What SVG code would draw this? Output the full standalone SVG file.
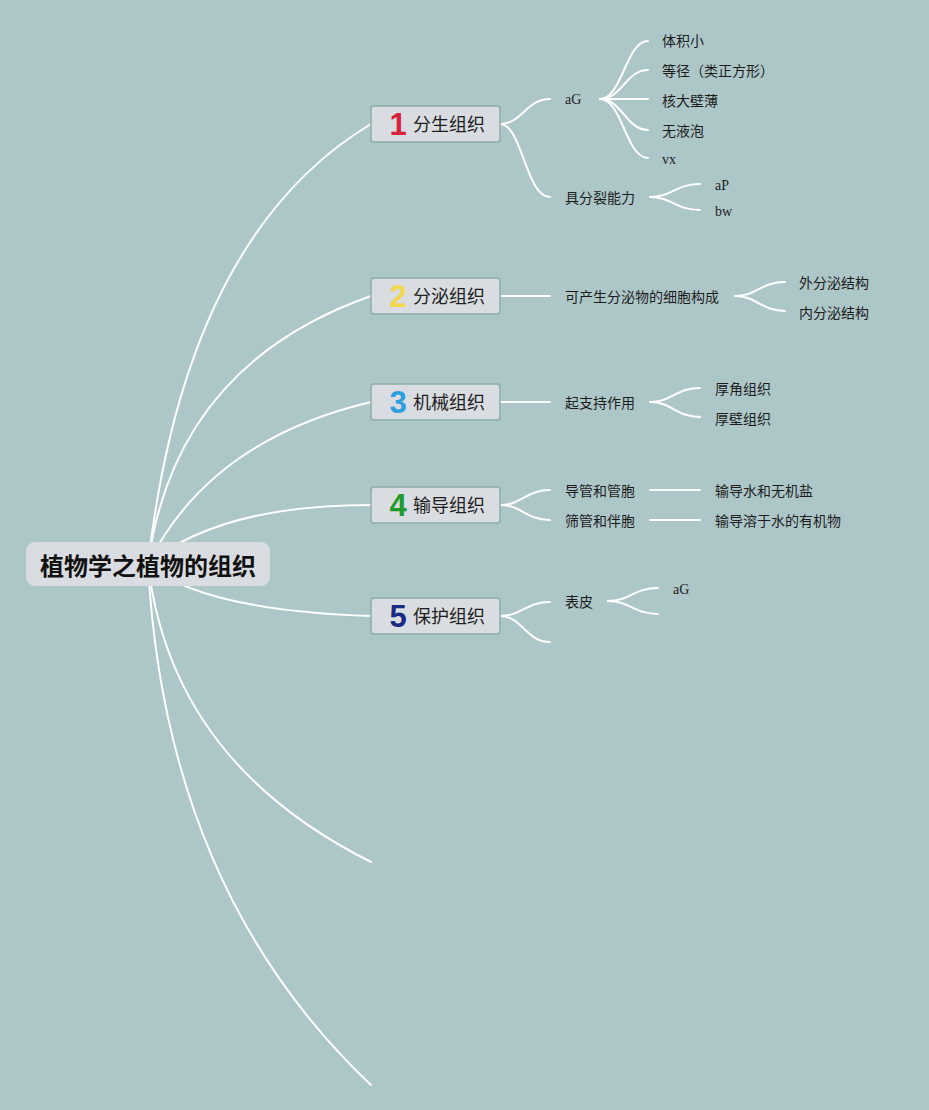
<svg xmlns="http://www.w3.org/2000/svg" width="929" height="1110" viewBox="0 0 929 1110">
<style>
.bg{fill:#adc7c9}
.ln{fill:none;stroke:#ffffff;stroke-width:2;stroke-linecap:round}
.sl{fill:none;stroke:#ffffff;stroke-width:2;stroke-linecap:round}
.box{fill:#d9dce1;stroke:#8aaeaa;stroke-width:1.5}
.root{fill:#d9dce1}
.rt{font-family:"Noto Sans CJK SC","Noto Sans",sans-serif;font-size:24px;font-weight:bold;fill:#111111}
.nt{font-family:"Noto Sans CJK SC","Noto Sans",sans-serif;font-size:18px;fill:#1e1e1e}
.num{font-family:"Liberation Sans","Noto Sans",sans-serif;font-size:31px;font-weight:bold}
.st{font-family:"Noto Sans CJK SC","Noto Sans",sans-serif;font-size:14px;fill:#1c1c1c}
.lt{font-family:"Liberation Serif",serif;font-size:14px;fill:#1c1c1c}
</style>
<rect class="bg" x="0" y="0" width="929" height="1110"/>
<g id="connectors">
<path class="ln" d="M148,564 Q186,235 371,124"/>
<path class="ln" d="M148,564 Q175,365 371,296"/>
<path class="ln" d="M148,564 Q210,440 371,402"/>
<path class="ln" d="M148,564 Q220,505 371,505"/>
<path class="ln" d="M148,564 Q200,610 371,616"/>
<path class="ln" d="M148,564 Q171,762 371,862"/>
<path class="ln" d="M148,564 Q165,890 371,1085"/>
<path class="sl" d="M500,124 C522,124 526,99 550,99"/>
<path class="sl" d="M500,124 C522,124 526,197 550,197"/>
<path class="sl" d="M600,99 C622,99 626,41 648,41"/>
<path class="sl" d="M600,99 C622,99 626,70 648,70"/>
<path class="sl" d="M600,99 L648,99"/>
<path class="sl" d="M600,99 C622,99 626,130 648,130"/>
<path class="sl" d="M600,99 C622,99 626,158 648,158"/>
<path class="sl" d="M650,197 C672,197 676,184 700,184"/>
<path class="sl" d="M650,197 C672,197 676,210 700,210"/>
<path class="sl" d="M500,296 L550,296"/>
<path class="sl" d="M735,296 C757,296 761,282 785,282"/>
<path class="sl" d="M735,296 C757,296 761,311 785,311"/>
<path class="sl" d="M500,402 L550,402"/>
<path class="sl" d="M650,402 C672,402 676,388 700,388"/>
<path class="sl" d="M650,402 C672,402 676,417 700,417"/>
<path class="sl" d="M500,505 C522,505 526,490 550,490"/>
<path class="sl" d="M500,505 C522,505 526,520 550,520"/>
<path class="sl" d="M650,490 L700,490"/>
<path class="sl" d="M650,520 L700,520"/>
<path class="sl" d="M500,616 C522,616 526,602 550,602"/>
<path class="sl" d="M500,616 C522,616 526,642 550,642"/>
<path class="sl" d="M608,601 C630,601 634,588 658,588"/>
<path class="sl" d="M608,601 C630,601 634,614 658,614"/>
</g>
<g id="root">
<rect class="root" x="26" y="542" width="244" height="44" rx="9"/>
<text class="rt" x="148" y="564" text-anchor="middle" dominant-baseline="central">植物学之植物的组织</text>
</g>
<g id="node1">
<rect class="box" x="371" y="106" width="129" height="36" rx="3"/>
<text class="num" x="398" y="135" text-anchor="middle" fill="#d8213b">1</text>
<text class="nt" x="413" y="123" dominant-baseline="central">分生组织</text>
</g>
<g id="node2">
<rect class="box" x="371" y="278" width="129" height="36" rx="3"/>
<text class="num" x="398" y="307" text-anchor="middle" fill="#f4d64a">2</text>
<text class="nt" x="413" y="295" dominant-baseline="central">分泌组织</text>
</g>
<g id="node3">
<rect class="box" x="371" y="384" width="129" height="36" rx="3"/>
<text class="num" x="398" y="413" text-anchor="middle" fill="#2b9fe0">3</text>
<text class="nt" x="413" y="401" dominant-baseline="central">机械组织</text>
</g>
<g id="node4">
<rect class="box" x="371" y="487" width="129" height="36" rx="3"/>
<text class="num" x="398" y="516" text-anchor="middle" fill="#1f9a2c">4</text>
<text class="nt" x="413" y="504" dominant-baseline="central">输导组织</text>
</g>
<g id="node5">
<rect class="box" x="371" y="598" width="129" height="36" rx="3"/>
<text class="num" x="398" y="627" text-anchor="middle" fill="#1b2a82">5</text>
<text class="nt" x="413" y="615" dominant-baseline="central">保护组织</text>
</g>
<g id="n1-aG"><text class="lt" x="565" y="99" dominant-baseline="central">aG</text></g>
<g id="n1-a1"><text class="st" x="662" y="40" dominant-baseline="central">体积小</text></g>
<g id="n1-a2"><text class="st" x="662" y="70" dominant-baseline="central">等径（类正方形）</text></g>
<g id="n1-a3"><text class="st" x="662" y="100" dominant-baseline="central">核大壁薄</text></g>
<g id="n1-a4"><text class="st" x="662" y="130" dominant-baseline="central">无液泡</text></g>
<g id="n1-a5"><text class="lt" x="662" y="159" dominant-baseline="central">vx</text></g>
<g id="n1-b"><text class="st" x="565" y="197" dominant-baseline="central">具分裂能力</text></g>
<g id="n1-b1"><text class="lt" x="715" y="185" dominant-baseline="central">aP</text></g>
<g id="n1-b2"><text class="lt" x="715" y="211" dominant-baseline="central">bw</text></g>
<g id="n2-a"><text class="st" x="565" y="296" dominant-baseline="central">可产生分泌物的细胞构成</text></g>
<g id="n2-a1"><text class="st" x="799" y="282" dominant-baseline="central">外分泌结构</text></g>
<g id="n2-a2"><text class="st" x="799" y="312" dominant-baseline="central">内分泌结构</text></g>
<g id="n3-a"><text class="st" x="565" y="402" dominant-baseline="central">起支持作用</text></g>
<g id="n3-a1"><text class="st" x="715" y="388" dominant-baseline="central">厚角组织</text></g>
<g id="n3-a2"><text class="st" x="715" y="418" dominant-baseline="central">厚壁组织</text></g>
<g id="n4-a"><text class="st" x="565" y="490" dominant-baseline="central">导管和管胞</text></g>
<g id="n4-a1"><text class="st" x="715" y="490" dominant-baseline="central">输导水和无机盐</text></g>
<g id="n4-b"><text class="st" x="565" y="520" dominant-baseline="central">筛管和伴胞</text></g>
<g id="n4-b1"><text class="st" x="715" y="520" dominant-baseline="central">输导溶于水的有机物</text></g>
<g id="n5-a"><text class="st" x="565" y="601" dominant-baseline="central">表皮</text></g>
<g id="n5-a1"><text class="lt" x="673" y="589" dominant-baseline="central">aG</text></g>
</svg>
